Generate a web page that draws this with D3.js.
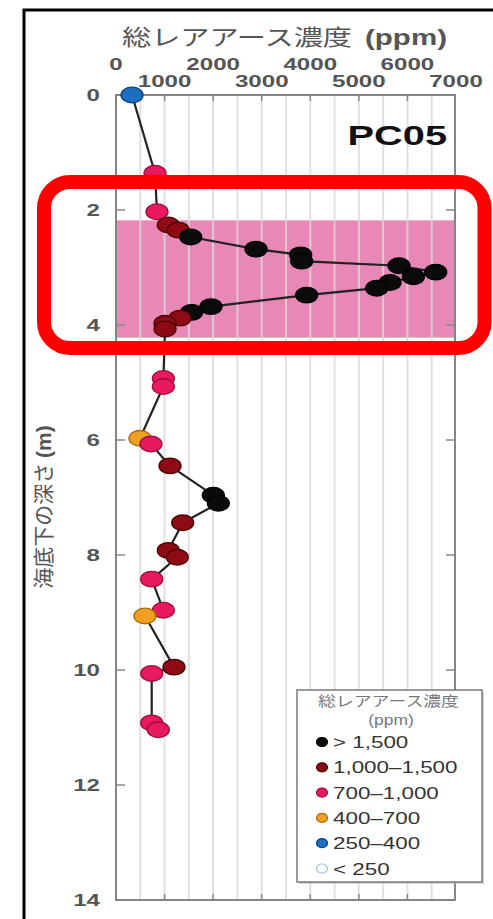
<!DOCTYPE html>
<html><head><meta charset="utf-8">
<script src="https://cdn.jsdelivr.net/npm/d3@7"></script>
<style>html,body{margin:0;padding:0;background:#fff;}svg{display:block;}</style>
</head><body>
<svg id="c" width="493" height="919"></svg>
<script>
// ---- data ----
const depths = [0.00, 1.36, 2.03, 2.26, 2.35, 2.47, 2.68, 2.78, 2.89, 2.97, 3.08, 3.16, 3.26, 3.36, 3.48, 3.68, 3.78, 3.88, 3.97, 4.07,
                4.93, 5.07, 5.97, 6.07, 6.45, 6.96, 7.10, 7.44, 7.92, 8.04, 8.42, 8.96, 9.06, 9.95, 10.06, 10.92, 11.04];
const ree    = [330, 803, 844, 1077, 1283, 1538, 2883, 3802, 3823, 5827, 6582, 6122, 5642, 5367, 3926, 1956, 1558, 1318, 1009, 1010,
                975, 975, 494, 720, 1112, 2004, 2107, 1373, 1077, 1262, 735, 975, 597, 1194, 735, 735, 871];
const xTicks = [0, 1000, 2000, 3000, 4000, 5000, 6000, 7000];
const yTicks = [0, 2, 4, 6, 8, 10, 12, 14];
const band = [2.18, 4.22];
const legendLabels = ["> 1,500", "1,000\u20131,500", "700\u20131,000", "400\u2013700", "250\u2013400", "< 250"];
const legendThresholds = [1500, 1000, 700, 400, 250, 0];
const legendColors = ["#0b0b0b", "#8e0a14", "#e8195f", "#f0a020", "#1b6ec2", "#ffffff"];
const legendStrokes = ["#000000", "#4a0306", "#9c0d3c", "#a86a0c", "#0d3f78", "#9cc3e6"];
const coreName = "PC05";
const xTitle = "総レアアース濃度";
const yTitle = "海底下の深さ";

// ---- layout ----
const svg = d3.select("#c");
const x = d3.scaleLinear().domain([0, 7000]).range([116, 456]);
const y = d3.scaleLinear().domain([0, 14]).range([95, 900]);
const L = 116, R = 455, T = 95, B = 900;

function classOf(v){ for (let i=0;i<legendThresholds.length;i++) if (v > legendThresholds[i]) return i; return legendThresholds.length-1; }

// outer frame
svg.append("rect").attr("x",24).attr("y",10).attr("width",500).attr("height",940)
  .attr("fill","none").attr("stroke","#000").attr("stroke-width",3);

// band
svg.append("rect").attr("x",L).attr("width",R-L).attr("y",y(band[0])).attr("height",y(band[1])-y(band[0]))
  .attr("fill","#e888b6");

// grid every 500
const grid = d3.range(500, 7000, 500);
svg.append("g").selectAll("line").data(grid).join("line")
  .attr("x1",d=>x(d)).attr("x2",d=>x(d)).attr("y1",T).attr("y2",B)
  .attr("stroke","#dadada").attr("stroke-width",2).attr("opacity",0.8);

// frame of plot
svg.append("rect").attr("x",L).attr("y",T).attr("width",R-L).attr("height",B-T)
  .attr("fill","none").attr("stroke","#858585").attr("stroke-width",2);

// inner ticks top/bottom
const tx = xTicks.filter(d=>d>0 && d<7000);
svg.append("g").selectAll("line").data(tx).join("line")
  .attr("x1",d=>x(d)).attr("x2",d=>x(d)).attr("y1",T).attr("y2",T+6).attr("stroke","#888").attr("stroke-width",1.5);
svg.append("g").selectAll("line").data(tx).join("line")
  .attr("x1",d=>x(d)).attr("x2",d=>x(d)).attr("y1",B).attr("y2",B-6).attr("stroke","#888").attr("stroke-width",1.5);
const ty = yTicks.filter(d=>d>0 && d<14);
svg.append("g").selectAll("line").data(ty).join("line")
  .attr("x1",L).attr("x2",L+9).attr("y1",d=>y(d)).attr("y2",d=>y(d)).attr("stroke","#888").attr("stroke-width",1.5);
svg.append("g").selectAll("line").data(ty).join("line")
  .attr("x1",R).attr("x2",R-9).attr("y1",d=>y(d)).attr("y2",d=>y(d)).attr("stroke","#888").attr("stroke-width",1.5);

// stretched text helper
function stext(px, py, str, o){
  const t = svg.append("text")
    .attr("transform", `translate(${px},${py}) scale(${o.sx||1},1)`)
    .attr("text-anchor", o.anchor||"start")
    .attr("font-family", o.family||"'Liberation Sans', Arial, sans-serif")
    .attr("font-size", o.size||16)
    .attr("font-weight", o.weight||"normal")
    .attr("fill", o.fill||"#333")
    .text(str);
  return t;
}

// x tick labels (staggered)
xTicks.forEach((d,i)=>{
  const row = (d/1000)%2===0 ? 70 : 87;
  stext(x(d), row, String(d), {sx:1.42, size:17, weight:"bold", fill:"#555", anchor:"middle"});
});
// y tick labels
yTicks.forEach(d=>{
  stext(100, y(d)+6, String(d), {sx:1.42, size:17, weight:"bold", fill:"#555", anchor:"end"});
});

// x title
svg.append("text").attr("x",122).attr("y",45).attr("font-family","'Noto Sans CJK JP', sans-serif")
  .attr("font-size",22).attr("fill","#555").attr("textLength",230).attr("lengthAdjust","spacingAndGlyphs").text(xTitle);
svg.append("text").attr("x",365).attr("y",45).attr("font-family","'Liberation Sans', Arial, sans-serif")
  .attr("font-size",22).attr("font-weight","bold").attr("fill","#555").attr("textLength",82).attr("lengthAdjust","spacingAndGlyphs").text("(ppm)");

// y title
const yt = svg.append("text").attr("transform","translate(51,507) rotate(-90)").attr("text-anchor","middle")
  .attr("font-family","'Noto Sans CJK JP', sans-serif").attr("font-size",21).attr("fill","#555");
yt.append("tspan").text(yTitle + " ");
yt.append("tspan").attr("font-family","'Liberation Sans', Arial, sans-serif").attr("font-weight","bold").text("(m)");

// core label
stext(447, 145, coreName, {sx:1.42, size:28, weight:"bold", fill:"#111", anchor:"end"});

// line + points
const pts = depths.map((d,i)=>({d, v: ree[i]}));
svg.append("path").datum(pts)
  .attr("d", d3.line().x(p=>x(p.v)).y(p=>y(p.d)))
  .attr("fill","none").attr("stroke","#222").attr("stroke-width",2.2);
svg.append("g").selectAll("ellipse").data(pts).join("ellipse")
  .attr("cx",p=>x(p.v)).attr("cy",p=>y(p.d)).attr("rx",11).attr("ry",7.8)
  .attr("fill",p=>legendColors[classOf(p.v)])
  .attr("stroke",p=>legendStrokes[classOf(p.v)]).attr("stroke-width",1.3);

// legend
svg.append("rect").attr("x",299).attr("y",692).attr("width",185).attr("height",192).attr("fill","#bbb").attr("opacity",0.6);
svg.append("rect").attr("x",297).attr("y",690).attr("width",185).attr("height",192)
  .attr("fill","#fff").attr("stroke","#7a7a7a").attr("stroke-width",1.5);
svg.append("text").attr("x",318).attr("y",706).attr("font-family","'Noto Sans CJK JP', sans-serif")
  .attr("font-size",14).attr("fill","#777").attr("textLength",141).attr("lengthAdjust","spacingAndGlyphs").text(xTitle);
stext(391, 725, "(ppm)", {sx:1.25, size:14, fill:"#777", anchor:"middle"});
legendLabels.forEach((lab,i)=>{
  const ry = 742 + i*25.3;
  svg.append("ellipse").attr("cx",322).attr("cy",ry).attr("rx",5.5).attr("ry",4.5)
    .attr("fill",legendColors[i]).attr("stroke",legendStrokes[i]).attr("stroke-width",1.2);
  stext(333, ry+6, lab, {sx:1.4, size:16, fill:"#333"});
});

// red annotation
svg.append("rect").attr("x",44).attr("y",182).attr("width",440.5).attr("height",166).attr("rx",26).attr("ry",26)
  .attr("fill","none").attr("stroke","#ff0000").attr("stroke-width",14);
</script>
</body></html>
